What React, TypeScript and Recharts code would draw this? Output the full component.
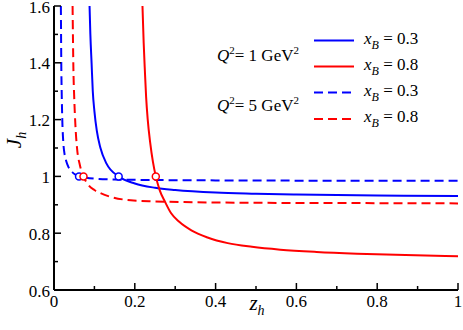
import React from 'react';
import { ComposedChart, Line, XAxis, YAxis, ReferenceDot } from 'recharts';

const SERIF = 'Liberation Serif';

// Q^2 = 1 GeV^2, x_B = 0.3 (blue solid)
const q1x03Z = [0.088, 0.09, 0.093, 0.096, 0.1, 0.106, 0.115, 0.13, 0.16, 0.2, 0.25, 0.3, 0.4, 0.5, 0.6, 0.8, 1.0];
const q1x03J = [1.6, 1.5, 1.4, 1.3, 1.23, 1.16, 1.1, 1.045, 1.0, 0.975, 0.96, 0.952, 0.943, 0.939, 0.936, 0.933, 0.931];

// Q^2 = 1 GeV^2, x_B = 0.8 (red solid)
const q1x08Z = [0.219, 0.222, 0.225, 0.228, 0.232, 0.238, 0.245, 0.252, 0.262, 0.275, 0.29, 0.31, 0.34, 0.38, 0.43, 0.49, 0.56, 0.65, 0.75, 0.87, 1.0];
const q1x08J = [1.6, 1.47, 1.37, 1.28, 1.2, 1.12, 1.05, 1.0, 0.95, 0.91, 0.87, 0.84, 0.81, 0.785, 0.765, 0.752, 0.742, 0.734, 0.728, 0.723, 0.719];

// Q^2 = 5 GeV^2, x_B = 0.3 (blue dashed)
const q5x03Z = [0.017, 0.0175, 0.018, 0.019, 0.0205, 0.023, 0.026, 0.03, 0.035, 0.045, 0.053, 0.062, 0.08, 0.1, 0.15, 0.2, 0.4, 0.7, 1.0];
const q5x03J = [1.6, 1.5, 1.4, 1.3, 1.2, 1.12, 1.08, 1.055, 1.035, 1.015, 1.006, 1.0, 0.995, 0.992, 0.989, 0.988, 0.986, 0.985, 0.985];

// Q^2 = 5 GeV^2, x_B = 0.8 (red dashed)
const q5x08Z = [0.046, 0.047, 0.048, 0.05, 0.053, 0.057, 0.064, 0.073, 0.085, 0.1, 0.114, 0.14, 0.19, 0.25, 0.35, 0.5, 0.75, 1.0];
const q5x08J = [1.6, 1.48, 1.38, 1.28, 1.18, 1.1, 1.04, 1.0, 0.97, 0.952, 0.942, 0.928, 0.916, 0.912, 0.909, 0.907, 0.906, 0.905];

// points where J_h = 1 (open circles)
const crossZ = [0.062, 0.073, 0.16, 0.252];
const crossJ = [1, 1, 1, 1];
const crossSeries = ['q5x03', 'q5x08', 'q1x03', 'q1x08'];

const xTicks = [0, 0.1, 0.2, 0.3, 0.4, 0.5, 0.6, 0.7, 0.8, 0.9, 1];
const xTickLabels = ['0', '0.2', '0.4', '0.6', '0.8', '1'];
const yTicks = [0.6, 0.7, 0.8, 0.9, 1.0, 1.1, 1.2, 1.3, 1.4, 1.5, 1.6];
const yTickLabels = ['0.6', '0.8', '1', '1.2', '1.4', '1.6'];

const legendLabels = ['= 0.3', '= 0.8', '= 0.3', '= 0.8'];

const BLUE = '#0000ff';
const RED = '#ff0000';

const toPoints = (z: number[], j: number[]) => z.map((v, i) => ({ z: v, j: j[i] }));

const seriesColor: Record<string, string> = { q1x03: BLUE, q1x08: RED, q5x03: BLUE, q5x08: RED };

const isMajor = (v: number) => Math.round(v * 10) % 2 === 0;

const MAJOR = 7;
const MINOR = 4;

const BottomTick = (props: any) => {
  const { x, y, payload } = props;
  const major = isMajor(payload.value);
  return (
    <g>
      <line x1={x} x2={x} y1={y} y2={y - (major ? MAJOR : MINOR)} stroke="#000" strokeWidth={1.5} />
      {major && (
        <text x={x} y={y + 17} textAnchor="middle" fontFamily={SERIF} fontSize={17} fill="#000">
          {xTickLabels[Math.round(payload.value * 5)]}
        </text>
      )}
    </g>
  );
};

const TopTick = (props: any) => {
  const { x, y, payload } = props;
  const major = isMajor(payload.value);
  return <line x1={x} x2={x} y1={y} y2={y + (major ? MAJOR : MINOR)} stroke="#000" strokeWidth={1.5} />;
};

const LeftTick = (props: any) => {
  const { x, y, payload } = props;
  const major = isMajor(payload.value);
  return (
    <g>
      <line x1={x} x2={x + (major ? MAJOR : MINOR)} y1={y} y2={y} stroke="#000" strokeWidth={1.5} />
      {major && (
        <text x={x - 4} y={y + 6.5} textAnchor="end" fontFamily={SERIF} fontSize={17} fill="#000">
          {yTickLabels[Math.round((payload.value - 0.6) * 5)]}
        </text>
      )}
    </g>
  );
};

const RightTick = (props: any) => {
  const { x, y, payload } = props;
  const major = isMajor(payload.value);
  return <line x1={x} x2={x - (major ? MAJOR : MINOR)} y1={y} y2={y} stroke="#000" strokeWidth={1.5} />;
};

const axisLine = { stroke: '#000', strokeWidth: 2 };

const App: React.FC = () => {
  const legendRows = [
    { color: BLUE, dash: undefined, y: 40.5 },
    { color: RED, dash: undefined, y: 66.5 },
    { color: BLUE, dash: '9 5', y: 92.5 },
    { color: RED, dash: '9 5', y: 119 }
  ];

  return (
    <div style={{ position: 'absolute', left: 0, top: 0, width: 463, height: 330, background: '#fff', fontFamily: SERIF }}>
      <ComposedChart width={463} height={330} margin={{ top: 6, right: 5, bottom: 0, left: 0 }}>
        <XAxis
          xAxisId="b"
          dataKey="z"
          type="number"
          domain={[0, 1]}
          ticks={xTicks}
          allowDataOverflow
          height={40}
          tickSize={0}
          tickMargin={0}
          tickLine={false}
          axisLine={axisLine}
          tick={<BottomTick />}
          interval={0}
        />
        <XAxis
          xAxisId="t"
          orientation="top"
          dataKey="z"
          type="number"
          domain={[0, 1]}
          ticks={xTicks}
          allowDataOverflow
          height={0}
          tickSize={0}
          tickMargin={0}
          tickLine={false}
          axisLine={axisLine}
          tick={<TopTick />}
          interval={0}
        />
        <YAxis
          yAxisId="l"
          type="number"
          domain={[0.6, 1.6]}
          ticks={yTicks}
          allowDataOverflow
          width={54}
          tickSize={0}
          tickMargin={0}
          tickLine={false}
          axisLine={axisLine}
          tick={<LeftTick />}
          interval={0}
        />
        <YAxis
          yAxisId="r"
          orientation="right"
          type="number"
          domain={[0.6, 1.6]}
          ticks={yTicks}
          allowDataOverflow
          width={0}
          tickSize={0}
          tickMargin={0}
          tickLine={false}
          axisLine={axisLine}
          tick={<RightTick />}
          interval={0}
        />
        <Line xAxisId="b" yAxisId="l" data={toPoints(q5x03Z, q5x03J)} dataKey="j" type="monotone" stroke={BLUE} strokeWidth={2} strokeDasharray="9 5" dot={false} isAnimationActive={false} />
        <Line xAxisId="b" yAxisId="l" data={toPoints(q5x08Z, q5x08J)} dataKey="j" type="monotone" stroke={RED} strokeWidth={2} strokeDasharray="9 5" dot={false} isAnimationActive={false} />
        <Line xAxisId="b" yAxisId="l" data={toPoints(q1x03Z, q1x03J)} dataKey="j" type="monotone" stroke={BLUE} strokeWidth={2} dot={false} isAnimationActive={false} />
        <Line xAxisId="b" yAxisId="l" data={toPoints(q1x08Z, q1x08J)} dataKey="j" type="monotone" stroke={RED} strokeWidth={2} dot={false} isAnimationActive={false} />
        {crossZ.map((z, i) => (
          <ReferenceDot
            key={i}
            xAxisId="b"
            yAxisId="l"
            x={z}
            y={crossJ[i]}
            r={3.5}
            fill="#fff"
            stroke={seriesColor[crossSeries[i]]}
            strokeWidth={1.5}
          />
        ))}
      </ComposedChart>
      <svg width={463} height={330} style={{ position: 'absolute', left: 0, top: 0, pointerEvents: 'none' }}>
        <g fill="#000" fontFamily={SERIF} fontSize={17}>
          <text x={217} y={61}>
            <tspan fontStyle="italic">Q</tspan>
            <tspan dy={-7} fontSize={11}>2</tspan>
            <tspan dy={7}>= 1 GeV</tspan>
            <tspan dy={-7} fontSize={11}>2</tspan>
          </text>
          <text x={217} y={111}>
            <tspan fontStyle="italic">Q</tspan>
            <tspan dy={-7} fontSize={11}>2</tspan>
            <tspan dy={7}>= 5 GeV</tspan>
            <tspan dy={-7} fontSize={11}>2</tspan>
          </text>
          {legendRows.map((r, i) => (
            <g key={i}>
              <line x1={314} x2={354} y1={r.y} y2={r.y} stroke={r.color} strokeWidth={2} strokeDasharray={r.dash} />
              <text x={364} y={r.y + 3}>
                <tspan fontStyle="italic">x</tspan>
                <tspan dy={5} fontSize={12} fontStyle="italic">B</tspan>
                <tspan dy={-5}> {legendLabels[i]}</tspan>
              </text>
            </g>
          ))}
          <text transform="translate(21,140) rotate(-90)" textAnchor="middle" fontSize={21}>
            <tspan fontStyle="italic">J</tspan>
            <tspan dy={5} fontSize={14} fontStyle="italic">h</tspan>
          </text>
          <text x={257} y={310} textAnchor="middle" fontSize={21}>
            <tspan fontStyle="italic">z</tspan>
            <tspan dy={5} fontSize={14} fontStyle="italic">h</tspan>
          </text>
        </g>
      </svg>
    </div>
  );
};

export default App;
